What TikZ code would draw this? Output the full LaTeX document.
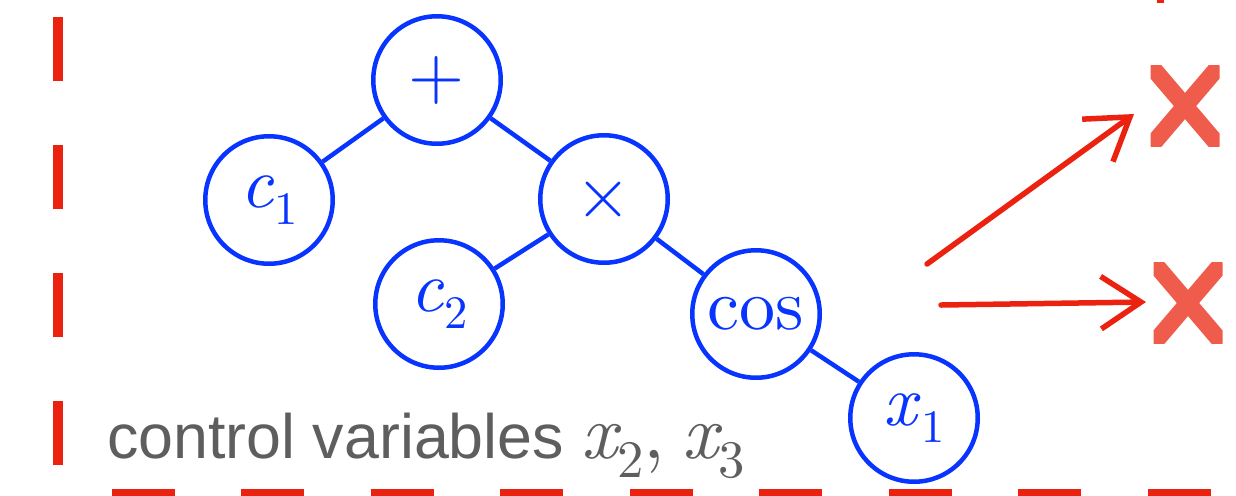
\documentclass[tikz,border=0pt]{standalone}
\usepackage{fontspec}
\setsansfont{Liberation Sans}
\setmainfont{lmroman10-regular.otf}[ItalicFont=lmroman10-italic.otf]
\usetikzlibrary{arrows.meta}
\definecolor{treeblue}{RGB}{8,52,255}
\definecolor{penred}{RGB}{236,34,16}
\definecolor{crossred}{RGB}{240,92,76}
\definecolor{labelgray}{RGB}{94,94,94}
\newcommand{\labfont}{\fontsize{44}{48}\selectfont\rmfamily}
\newcommand{\nodevar}[2]{\textit{#1}\raisebox{-9.6pt}{\fontsize{26.5}{28}\selectfont #2}}
\newcommand{\labvar}[2]{{\labfont\itshape #1}\raisebox{-11.3pt}{\fontsize{30}{32}\selectfont\rmfamily #2}}

\begin{document}
\begin{tikzpicture}[x=0.02cm, y=-0.02cm,
    tnode/.style={circle, draw=treeblue, line width=0.09cm, minimum size=2.55cm, inner sep=0pt, text=treeblue, font=\fontsize{41}{46}\selectfont\rmfamily},
    link/.style={treeblue, line width=0.09cm},
    redarrow/.style={penred, line width=0.11cm, line cap=round, -{Straight Barb[length=0.8cm, width=1.05cm]}},
    framedash/.style={penred, line width=0.2cm},
    failmark/.style={minimum width=1.38cm, minimum height=1.62cm, inner sep=0pt,
      path picture={\draw[crossred, line width=0.34cm] (path picture bounding box.north west) -- (path picture bounding box.south east)
        (path picture bounding box.north east) -- (path picture bounding box.south west);}}]
  \useasboundingbox (0,0) rectangle (1236,495);
  % dashed frame
  \draw[framedash, dash pattern=on 1.28cm off 1.28cm] (58,17) -- (58,466);
  \draw[framedash, dash pattern=on 1.26cm off 1.33cm] (112,494) -- (1240,494);
  \draw[framedash, line width=0.14cm] (1160,-30) -- (1160,3);
  % expression tree
  \node[tnode] (plus) at (437,80) {+};
  \node[tnode] (cone) at (269,200) {\nodevar{c}{1}};
  \node[tnode] (times) at (604,199) {×};
  \node[tnode] (ctwo) at (439,304) {\nodevar{c}{2}};
  \node[tnode] (cosn) at (756,314) {cos};
  \node[tnode] (xone) at (914,418) {\nodevar{x}{1}};
  \draw[link] (plus) -- (cone);
  \draw[link] (plus) -- (times);
  \draw[link] (times) -- (ctwo);
  \draw[link] (times) -- (cosn);
  \draw[link] (cosn) -- (xone);
  \node[anchor=base west, inner sep=0pt, text=labelgray, font=\fontsize{35.7}{40}\sffamily] (ctrl) at (107,458)
    {control variables \labvar{x}{2}{\labfont,} \labvar{x}{3}};
  % rejected outputs
  \node[failmark] (fail1) at (1185,106) {};
  \node[failmark] (fail2) at (1188,303) {};
  \coordinate (a1) at (927,264);
  \coordinate (h1) at (1134,114);
  \coordinate (a2) at (941,305);
  \coordinate (h2) at (1146,302);
  \draw[redarrow] (a1) -- (h1);
  \draw[redarrow] (a2) -- (h2);
\end{tikzpicture}
\end{document}
